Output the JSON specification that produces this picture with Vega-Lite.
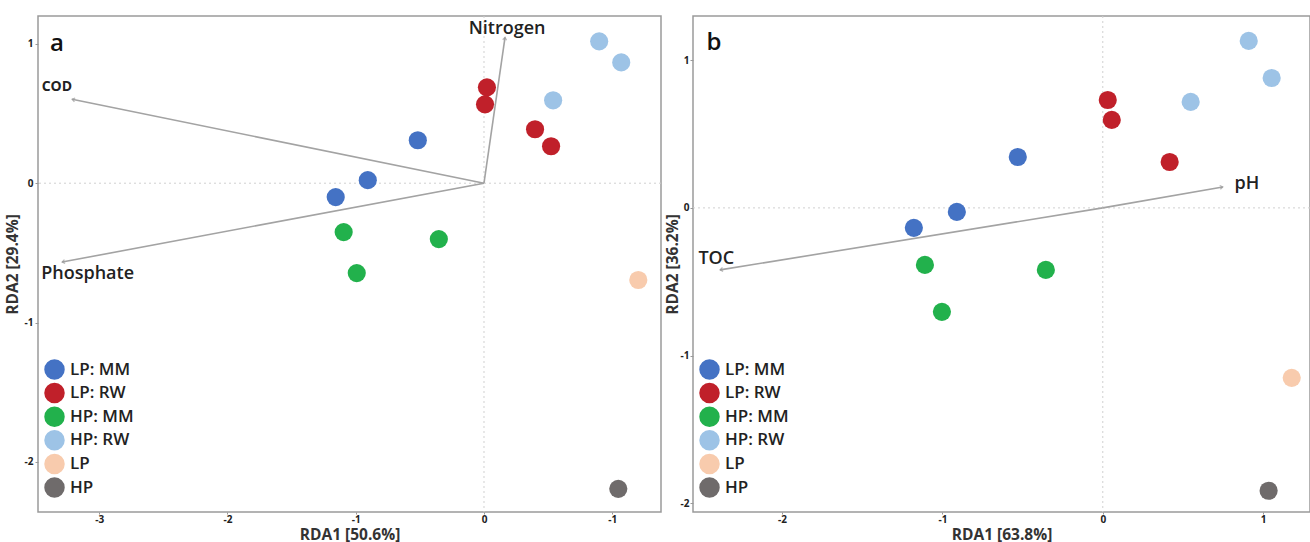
{
  "$schema": "https://vega.github.io/schema/vega-lite/v6.json",
  "padding": {"left": 4, "top": 14, "right": 0, "bottom": 0},
  "spacing": 1,
  "background": "white",
  "datasets": {
    "ptsA": [
      {"g": "LP: MM", "x": -0.516, "y": 0.308},
      {"g": "LP: MM", "x": -0.906, "y": 0.022},
      {"g": "LP: MM", "x": -1.156, "y": -0.1},
      {"g": "LP: RW", "x": 0.023, "y": 0.688},
      {"g": "LP: RW", "x": 0.008, "y": 0.566},
      {"g": "LP: RW", "x": 0.398, "y": 0.387},
      {"g": "LP: RW", "x": 0.523, "y": 0.265},
      {"g": "HP: MM", "x": -1.094, "y": -0.351},
      {"g": "HP: MM", "x": -0.352, "y": -0.401},
      {"g": "HP: MM", "x": -0.992, "y": -0.645},
      {"g": "HP: RW", "x": 0.898, "y": 1.018},
      {"g": "HP: RW", "x": 1.07, "y": 0.867},
      {"g": "HP: RW", "x": 0.539, "y": 0.595},
      {"g": "LP", "x": 1.203, "y": -0.695},
      {"g": "HP", "x": 1.047, "y": -2.194}
    ],
    "ptsB": [
      {"g": "LP: MM", "x": -0.91, "y": -0.027},
      {"g": "LP: MM", "x": -1.178, "y": -0.135},
      {"g": "LP: MM", "x": -0.53, "y": 0.345},
      {"g": "LP: RW", "x": 0.031, "y": 0.731},
      {"g": "LP: RW", "x": 0.056, "y": 0.596},
      {"g": "LP: RW", "x": 0.417, "y": 0.311},
      {"g": "HP: MM", "x": -1.109, "y": -0.386},
      {"g": "HP: MM", "x": -0.355, "y": -0.42},
      {"g": "HP: MM", "x": -1.003, "y": -0.704},
      {"g": "HP: RW", "x": 0.91, "y": 1.131},
      {"g": "HP: RW", "x": 1.053, "y": 0.88},
      {"g": "HP: RW", "x": 0.548, "y": 0.718},
      {"g": "LP", "x": 1.178, "y": -1.151},
      {"g": "HP", "x": 1.034, "y": -1.916}
    ],
    "arrA": [
      {"v": "Nitrogen", "x0": 0, "y0": 0, "x": 0.164, "y": 1.047, "lx": 0.18, "ly": 1.105},
      {"v": "COD", "x0": 0, "y0": 0, "x": -3.211, "y": 0.602, "lx": -3.33, "ly": 0.69},
      {"v": "Phosphate", "x0": 0, "y0": 0, "x": -3.289, "y": -0.566, "lx": -3.09, "ly": -0.653}
    ],
    "arrB": [
      {"v": "pH", "x0": 0, "y0": 0, "x": 0.748, "y": 0.142, "lx": 0.898, "ly": 0.163},
      {"v": "TOC", "x0": 0, "y0": 0, "x": -2.386, "y": -0.42, "lx": -2.41, "ly": -0.345}
    ],
    "tagA": [{"t": "a", "x": -3.33, "y": 1.0}],
    "tagB": [{"t": "b", "x": -2.425, "y": 1.118}]
  },
  "config": {
    "view": {"stroke": "#9a9a9a", "strokeWidth": 1.5},
    "axis": {
      "domain": false, "grid": false,
      "labelFont": "Open Sans", "labelFontWeight": "bold", "labelFontSize": 10, "labelColor": "#222",
      "tickSize": 3, "tickColor": "#999",
      "titleFont": "Open Sans", "titleFontSize": 15.5, "titleFontWeight": "bold", "titleColor": "#333"
    },
    "axisX": {"tickSize": 2, "titleFontSize": 15.5, "titleY": 15, "titleBaseline": "top", "labelPadding": 0},
    "legend": {
      "labelFont": "Open Sans", "labelFontSize": 17, "labelFontWeight": 600, "labelColor": "#222",
      "symbolType": "circle", "symbolSize": 420, "symbolStrokeWidth": 0, "rowPadding": 2.6, "labelOffset": 5
    }
  },
  "resolve": {"scale": {"color": "independent"}, "legend": {"color": "independent"}},
  "hconcat": [
    {
      "width": 623, "height": 496,
      "layer": [
        {"data": {"values": [{"z": 0}]}, "mark": {"type": "rule", "color": "#d0d0d0", "strokeDash": [2, 3], "strokeWidth": 1}, "encoding": {"x": {"field": "z", "type": "quantitative", "scale": {"domain": [-3.477, 1.38], "nice": false, "zero": false}, "axis": {"values": [-3, -2, -1, 0, 1], "title": "RDA1 [50.6%]", "labelExpr": "datum.value == 1 ? '-1' : '' + datum.value"}}}},
        {"data": {"values": [{"z": 0}]}, "mark": {"type": "rule", "color": "#d0d0d0", "strokeDash": [2, 3], "strokeWidth": 1}, "encoding": {"y": {"field": "z", "type": "quantitative", "scale": {"domain": [-2.36, 1.2], "nice": false, "zero": false}, "axis": {"values": [-2, -1, 0, 1], "title": "RDA2 [29.4%]", "labelExpr": "'' + datum.value", "labelPadding": 2, "titlePadding": 4}}}},
        {"data": {"name": "arrA"}, "mark": {"type": "rule", "color": "#a3a3a3", "strokeWidth": 1.6}, "encoding": {"x": {"field": "x0", "type": "quantitative"}, "y": {"field": "y0", "type": "quantitative"}, "x2": {"field": "x"}, "y2": {"field": "y"}}},
        {"data": {"name": "arrA"}, "transform": [{"calculate": "atan2(-datum.y * 139.33, datum.x * 128.27) * 180 / PI", "as": "ang"}], "mark": {"type": "point", "shape": "M -1 -0.7 L 0 0 L -1 0.7", "filled": false, "stroke": "#999", "strokeWidth": 1.3, "size": 30}, "encoding": {"x": {"field": "x", "type": "quantitative"}, "y": {"field": "y", "type": "quantitative"}, "angle": {"field": "ang", "type": "quantitative", "scale": null}}},
        {"data": {"name": "arrA"}, "transform": [{"filter": "datum.v != 'COD'"}], "mark": {"type": "text", "font": "Open Sans", "fontWeight": 600, "fontSize": 18, "color": "#222"}, "encoding": {"x": {"field": "lx", "type": "quantitative"}, "y": {"field": "ly", "type": "quantitative"}, "text": {"field": "v"}}},
        {"data": {"name": "arrA"}, "transform": [{"filter": "datum.v == 'COD'"}], "mark": {"type": "text", "font": "Open Sans", "fontWeight": "bold", "fontSize": 14, "color": "#222"}, "encoding": {"x": {"field": "lx", "type": "quantitative"}, "y": {"field": "ly", "type": "quantitative"}, "text": {"field": "v"}}},
        {"data": {"name": "tagA"}, "mark": {"type": "text", "font": "Open Sans", "fontWeight": 600, "fontSize": 24, "color": "#111"}, "encoding": {"x": {"field": "x", "type": "quantitative"}, "y": {"field": "y", "type": "quantitative"}, "text": {"field": "t"}}},
        {"data": {"name": "ptsA"}, "mark": {"type": "point", "filled": true, "opacity": 1, "size": 330, "shape": "circle"}, "encoding": {"x": {"field": "x", "type": "quantitative"}, "y": {"field": "y", "type": "quantitative"}, "color": {"field": "g", "type": "nominal", "scale": {"domain": ["LP: MM", "LP: RW", "HP: MM", "HP: RW", "LP", "HP"], "range": ["#4472C4", "#C0202A", "#22B14C", "#9DC3E6", "#F8CBAD", "#6F6B6B"]}, "legend": {"title": null, "orient": "none", "legendX": 6, "legendY": 343}}}}
      ]
    },
    {
      "width": 617, "height": 496,
      "layer": [
        {"data": {"values": [{"z": 0}]}, "mark": {"type": "rule", "color": "#d0d0d0", "strokeDash": [2, 3], "strokeWidth": 1}, "encoding": {"x": {"field": "z", "type": "quantitative", "scale": {"domain": [-2.555, 1.292], "nice": false, "zero": false}, "axis": {"values": [-2, -1, 0, 1], "title": "RDA1 [63.8%]", "labelExpr": "'' + datum.value"}}}},
        {"data": {"values": [{"z": 0}]}, "mark": {"type": "rule", "color": "#d0d0d0", "strokeDash": [2, 3], "strokeWidth": 1}, "encoding": {"y": {"field": "z", "type": "quantitative", "scale": {"domain": [-2.06, 1.3], "nice": false, "zero": false}, "axis": {"values": [-2, -1, 0, 1], "title": "RDA2 [36.2%]", "labelExpr": "'' + datum.value", "labelPadding": 1, "titlePadding": 0}}}},
        {"data": {"name": "arrB"}, "mark": {"type": "rule", "color": "#a3a3a3", "strokeWidth": 1.6}, "encoding": {"x": {"field": "x0", "type": "quantitative"}, "y": {"field": "y0", "type": "quantitative"}, "x2": {"field": "x"}, "y2": {"field": "y"}}},
        {"data": {"name": "arrB"}, "transform": [{"calculate": "atan2(-datum.y * 147.6, datum.x * 160.4) * 180 / PI", "as": "ang"}], "mark": {"type": "point", "shape": "M -1 -0.7 L 0 0 L -1 0.7", "filled": false, "stroke": "#999", "strokeWidth": 1.3, "size": 30}, "encoding": {"x": {"field": "x", "type": "quantitative"}, "y": {"field": "y", "type": "quantitative"}, "angle": {"field": "ang", "type": "quantitative", "scale": null}}},
        {"data": {"name": "arrB"}, "mark": {"type": "text", "font": "Open Sans", "fontWeight": 600, "fontSize": 18, "color": "#222"}, "encoding": {"x": {"field": "lx", "type": "quantitative"}, "y": {"field": "ly", "type": "quantitative"}, "text": {"field": "v"}}},
        {"data": {"name": "tagB"}, "mark": {"type": "text", "font": "Open Sans", "fontWeight": 600, "fontSize": 24, "color": "#111"}, "encoding": {"x": {"field": "x", "type": "quantitative"}, "y": {"field": "y", "type": "quantitative"}, "text": {"field": "t"}}},
        {"data": {"name": "ptsB"}, "mark": {"type": "point", "filled": true, "opacity": 1, "size": 330, "shape": "circle"}, "encoding": {"x": {"field": "x", "type": "quantitative"}, "y": {"field": "y", "type": "quantitative"}, "color": {"field": "g", "type": "nominal", "scale": {"domain": ["LP: MM", "LP: RW", "HP: MM", "HP: RW", "LP", "HP"], "range": ["#4472C4", "#C0202A", "#22B14C", "#9DC3E6", "#F8CBAD", "#6F6B6B"]}, "legend": {"title": null, "orient": "none", "legendX": 6, "legendY": 343}}}}
      ]
    }
  ]
}
